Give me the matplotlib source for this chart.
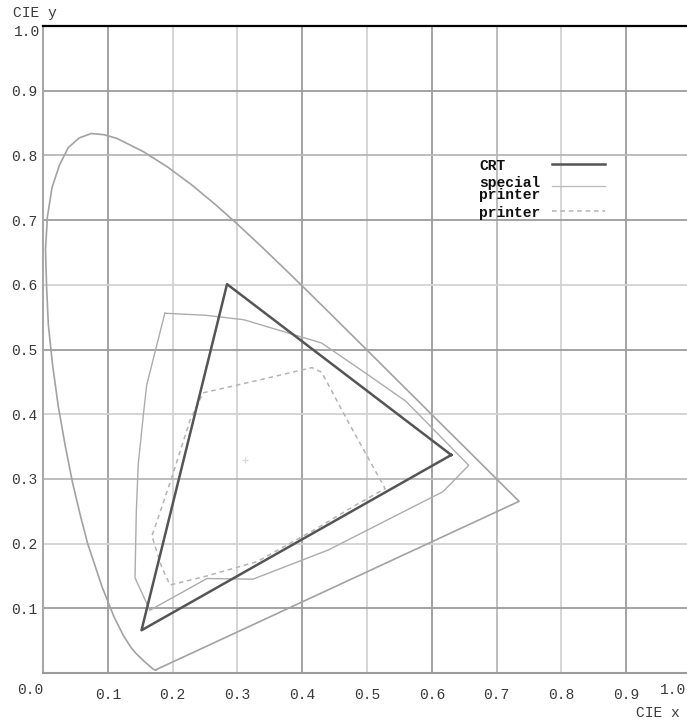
import numpy as np
import matplotlib
matplotlib.use('Agg')
import matplotlib.pyplot as plt
import matplotlib.transforms as mtransforms

# spectral locus (CIE 1931), closed by the purple line
locus_x = [0.1741, 0.1733, 0.1726, 0.1714, 0.1689, 0.1644, 0.1566, 0.1440, 0.1355,
           0.1241, 0.1096, 0.0913, 0.0687, 0.0568, 0.0454, 0.0340, 0.0235, 0.0148,
           0.0082, 0.0055, 0.0039, 0.0068, 0.0139, 0.0254, 0.0389, 0.0560, 0.0743,
           0.0940, 0.1142, 0.1547, 0.1929, 0.2296, 0.2658, 0.3016, 0.3373, 0.3731,
           0.4087, 0.4441, 0.4788, 0.5125, 0.5448, 0.5752, 0.6029, 0.6270, 0.6658,
           0.6915, 0.7079, 0.7190, 0.7260, 0.7300, 0.7334, 0.7347, 0.1741]
locus_y = [0.0050, 0.0048, 0.0048, 0.0051, 0.0069, 0.0109, 0.0177, 0.0297, 0.0399,
           0.0578, 0.0868, 0.1327, 0.2007, 0.2470, 0.2950, 0.3530, 0.4127, 0.4760,
           0.5384, 0.5980, 0.6548, 0.7050, 0.7502, 0.7850, 0.8120, 0.8270, 0.8338,
           0.8320, 0.8262, 0.8059, 0.7816, 0.7543, 0.7243, 0.6923, 0.6589, 0.6245,
           0.5896, 0.5547, 0.5202, 0.4866, 0.4544, 0.4242, 0.3965, 0.3725, 0.3340,
           0.3083, 0.2920, 0.2809, 0.2740, 0.2700, 0.2666, 0.2653, 0.0050]

crt_x = [0.630, 0.284, 0.152, 0.630]
crt_y = [0.337, 0.601, 0.066, 0.337]

special_x = [0.188, 0.250, 0.310, 0.430, 0.500, 0.560, 0.657, 0.617, 0.597, 0.440,
             0.324, 0.253, 0.165, 0.142, 0.144, 0.147, 0.155, 0.160, 0.188]
special_y = [0.556, 0.553, 0.546, 0.510, 0.462, 0.420, 0.321, 0.280, 0.270, 0.190,
             0.145, 0.146, 0.097, 0.147, 0.250, 0.323, 0.400, 0.445, 0.556]

printer_x = [0.247, 0.330, 0.415, 0.430, 0.470, 0.528, 0.480, 0.420, 0.330, 0.253,
             0.196, 0.183, 0.168, 0.173, 0.199, 0.227, 0.247]
printer_y = [0.433, 0.452, 0.472, 0.465, 0.390, 0.285, 0.258, 0.222, 0.172, 0.150,
             0.136, 0.164, 0.212, 0.226, 0.303, 0.391, 0.433]

white_x, white_y = 0.312, 0.329

ticks = [0.1, 0.2, 0.3, 0.4, 0.5, 0.6, 0.7, 0.8, 0.9]
tick_labels = ['0.1', '0.2', '0.3', '0.4', '0.5', '0.6', '0.7', '0.8', '0.9']
legend_names = ['CRT', 'special\nprinter', 'printer']

W, H = 687, 721
fig = plt.figure(figsize=(W / 100, H / 100), dpi=100)
ax = fig.add_axes([43 / W, 48 / H, 648 / W, 647 / H])
ax.set_xlim(0, 1)
ax.set_ylim(0, 1)

mono = 'Liberation Mono'
txtc = '#3a3a3a'

# grid, scanned look: some lines darker than others
dark, mid, light = '#9c9c9c', '#b8b8b8', '#d2d2d2'
vshade = [dark, light, light, dark, light, dark, mid, light, dark]
hshade = [dark, light, mid, light, dark, light, dark, mid, dark]
for t, c in zip(ticks, vshade):
    ax.axvline(t, color=c, lw=1.3, zorder=0)
for t, c in zip(ticks, hshade):
    ax.axhline(t, color=c, lw=1.3, zorder=0)

ax.spines['right'].set_visible(False)
ax.spines['left'].set_color('#a8a8a8')
ax.spines['left'].set_linewidth(1.5)
ax.spines['bottom'].set_color('#9a9a9a')
ax.spines['bottom'].set_linewidth(1.5)
ax.spines['top'].set_color('black')
ax.spines['top'].set_linewidth(1.6)

ax.plot(locus_x, locus_y, color='#a2a2a2', lw=1.2)
ax.plot(special_x, special_y, color='#acacac', lw=1.0)
ax.plot(printer_x, printer_y, color='#b4b4b4', lw=1.1, ls=(0, (3, 2.5)))
ax.plot(crt_x, crt_y, color='#555555', lw=1.8)
ax.plot(white_x, white_y, marker='+', color='#d5d5d5', ms=5, mew=0.8)

ax.set_xticks(ticks)
ax.set_xticklabels(tick_labels, fontfamily=mono, fontsize=10.5, color=txtc)
ax.set_yticks(ticks)
ax.set_yticklabels(tick_labels, fontfamily=mono, fontsize=10.5, color=txtc)
ax.tick_params(axis='x', length=0, pad=11)
ax.tick_params(axis='y', length=0, pad=4)

# end labels sit off the tick positions in the original
tr_x = mtransforms.blended_transform_factory(ax.transData, ax.transAxes)
ax.text(-0.02, -0.027, '0.0', transform=tr_x, ha='center', va='center',
        fontfamily=mono, fontsize=10.5, color=txtc, clip_on=False)
ax.text(0.973, -0.027, '1.0', transform=tr_x, ha='center', va='center',
        fontfamily=mono, fontsize=10.5, color=txtc, clip_on=False)
tr_y = mtransforms.blended_transform_factory(ax.transAxes, ax.transData)
ax.text(-0.005, 0.99, '1.0', transform=tr_y, ha='right', va='center',
        fontfamily=mono, fontsize=10.5, color=txtc, clip_on=False)

fig.text(13 / W, 1 - 13 / H, 'CIE y', ha='left', va='center',
         fontfamily=mono, fontsize=10.5, color=txtc)
fig.text(658 / W, 1 - 713 / H, 'CIE x', ha='center', va='center',
         fontfamily=mono, fontsize=10.5, color=txtc)

# hand-placed legend as in the original
leg_y = [0.787, 0.753, 0.714]
leg_text_y = [0.784, 0.748, 0.711]
styles = [dict(color='#555555', lw=1.8),
          dict(color='#bdbdbd', lw=1.0),
          dict(color='#b4b4b4', lw=1.1, ls=(0, (3, 2.5)))]
for name, ly, ty, st in zip(legend_names, leg_y, leg_text_y, styles):
    ax.text(0.673, ty, name, ha='left', va='center', fontfamily=mono,
            fontweight='bold', fontsize=10.5, linespacing=0.75, color='#111111')
    ax.plot([0.785, 0.867], [ly, ly], **st)

fig.savefig('out.png', dpi=100)
